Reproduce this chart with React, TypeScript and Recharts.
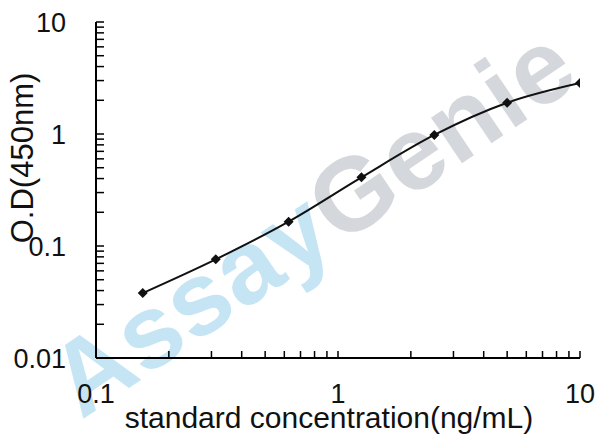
import React from 'react';
import { LineChart, Line, XAxis, YAxis, Label } from 'recharts';

const concentrations = [0.156, 0.3125, 0.625, 1.25, 2.5, 5, 10];
const odValues = [0.038, 0.076, 0.165, 0.41, 0.98, 1.9, 2.85];

const xMajorTicks = [0.1, 1, 10];
const xMinorTicks = [0.2, 0.3, 0.4, 0.5, 0.6, 0.7, 0.8, 0.9, 2, 3, 4, 5, 6, 7, 8, 9];
const yMajorTicks = [0.01, 0.1, 1, 10];
const yMinorTicks = [0.02, 0.03, 0.04, 0.05, 0.06, 0.07, 0.08, 0.09, 0.2, 0.3, 0.4, 0.5, 0.6, 0.7, 0.8, 0.9, 2, 3, 4, 5, 6, 7, 8, 9];

const xTickLabels: Record<string, string> = { '0.1': '0.1', '1': '1', '10': '10' };
const yTickLabels: Record<string, string> = { '0.01': '0.01', '0.1': '0.1', '1': '1', '10': '10' };

const data = concentrations.map((c, i) => ({ conc: c, od: odValues[i] }));

const FONT = '"Liberation Sans", Arial, sans-serif';

const XTick = (props: any) => {
  const { x, y, payload } = props;
  const label = xTickLabels[String(payload.value)];
  return (
    <g>
      <line x1={x} x2={x} y1={y} y2={y - 7} stroke="#000" strokeWidth={1.5} />
      {label && (
        <text x={x} y={y + 45} textAnchor="middle" fontSize={27} fontFamily={FONT} fill="#111">
          {label}
        </text>
      )}
    </g>
  );
};

const YTick = (props: any) => {
  const { x, y, payload } = props;
  const label = yTickLabels[String(payload.value)];
  return (
    <g>
      <line x1={x} x2={x + 8} y1={y} y2={y} stroke="#000" strokeWidth={1.5} />
      {label && (
        <text x={x - 30} y={y} dy="0.36em" textAnchor="end" fontSize={27} fontFamily={FONT} fill="#111">
          {label}
        </text>
      )}
    </g>
  );
};

const Diamond = (props: any) => {
  const { cx, cy } = props;
  if (cx == null || cy == null) return null;
  const r = 5;
  return (
    <polygon
      points={`${cx},${cy - r} ${cx + r},${cy} ${cx},${cy + r} ${cx - r},${cy}`}
      fill="#111"
      stroke="none"
    />
  );
};

export default function App() {
  return (
    <div style={{ position: 'absolute', left: 0, top: 0, width: 608, height: 444, background: '#fff' }}>
      <svg width={608} height={444} style={{ position: 'absolute', left: 0, top: 0 }}>
        <text
          transform="translate(312,221) rotate(-34)"
          textAnchor="middle"
          dominantBaseline="central"
          fontSize={104}
          fontWeight="bold"
          letterSpacing={1}
          fontFamily={FONT}
        >
          <tspan fill="#c6e5f4">Assay</tspan>
          <tspan fill="#d4d7db">Genie</tspan>
        </text>
      </svg>
      <div style={{ position: 'absolute', left: 0, top: 0 }}>
        <LineChart width={608} height={444} data={data} margin={{ top: 22, right: 28, bottom: 0, left: 0 }}>
          <XAxis
            dataKey="conc"
            type="number"
            scale="log"
            domain={[0.1, 10]}
            allowDataOverflow
            ticks={[...xMajorTicks, ...xMinorTicks].sort((a, b) => a - b)}
            interval={0}
            height={86}
            tickSize={0}
            tickMargin={0}
            tickLine={false}
            tick={<XTick />}
            axisLine={{ stroke: '#000', strokeWidth: 2 }}
          >
            <Label
              content={(p: any) => {
                const vb = p.viewBox;
                return (
                  <text x={vb.x + vb.width / 2 - 9} y={vb.y + 70} textAnchor="middle" fontSize={30} fontFamily={FONT} fill="#111">
                    standard concentration(ng/mL)
                  </text>
                );
              }}
            />
          </XAxis>
          <YAxis
            type="number"
            scale="log"
            domain={[0.01, 10]}
            allowDataOverflow
            ticks={[...yMajorTicks, ...yMinorTicks].sort((a, b) => a - b)}
            interval={0}
            width={96}
            tickSize={0}
            tickMargin={0}
            tickLine={false}
            tick={<YTick />}
            axisLine={{ stroke: '#000', strokeWidth: 2 }}
          >
            <Label
              content={(p: any) => {
                const vb = p.viewBox;
                const cx = 22;
                const cy = vb.y + vb.height / 2 - 32;
                return (
                  <text
                    x={cx}
                    y={cy}
                    transform={`rotate(-90, ${cx}, ${cy})`}
                    textAnchor="middle"
                    dominantBaseline="central"
                    fontSize={31}
                    fontFamily={FONT}
                    fill="#111"
                  >
                    O.D(450nm)
                  </text>
                );
              }}
            />
          </YAxis>
          <Line
            dataKey="od"
            type="monotone"
            stroke="#111"
            strokeWidth={2}
            dot={<Diamond />}
            activeDot={false}
            isAnimationActive={false}
          />
        </LineChart>
      </div>
    </div>
  );
}
